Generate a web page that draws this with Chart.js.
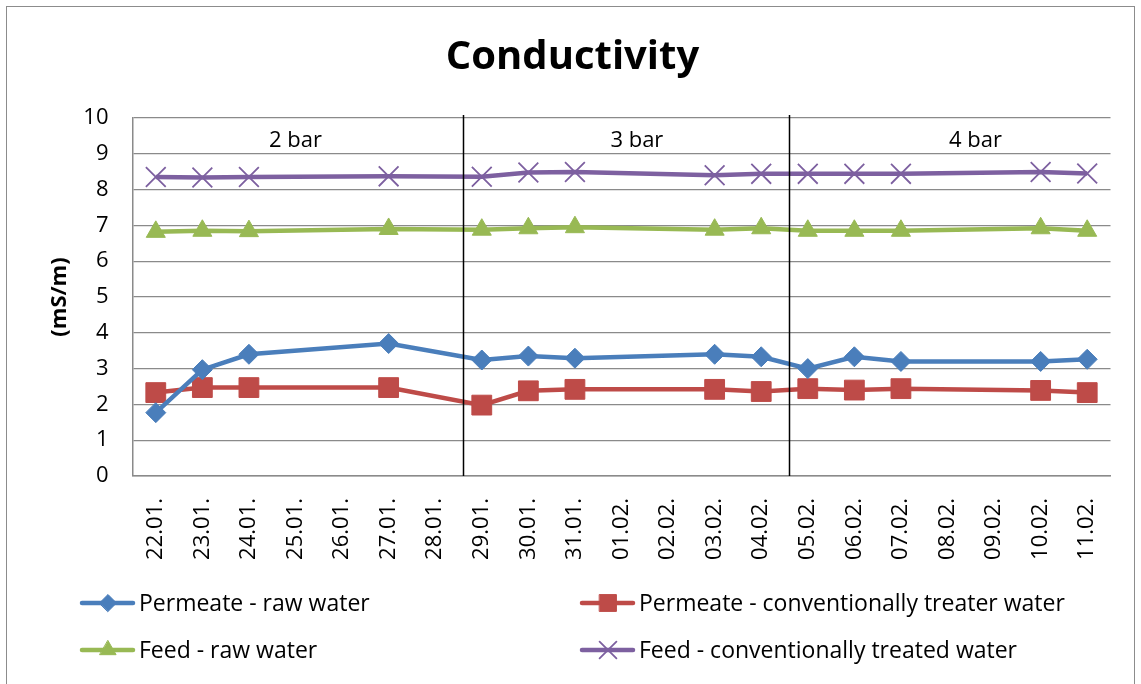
<!DOCTYPE html>
<html>
<head>
<meta charset="utf-8">
<script src="https://cdn.jsdelivr.net/npm/chart.js@4/dist/chart.umd.min.js"></script>
<style>
  html, body { margin: 0; padding: 0; background: #fff; }
  canvas { display: block; }
</style>
</head>
<body>
<canvas id="chart" width="1141" height="684"></canvas>
<script>
// ========== DATA ==========

const DATES = [
  '22.01.', '23.01.', '24.01.', '25.01.', '26.01.', '27.01.', '28.01.',
  '29.01.', '30.01.', '31.01.', '01.02.', '02.02.', '03.02.', '04.02.',
  '05.02.', '06.02.', '07.02.', '08.02.', '09.02.', '10.02.', '11.02.',
];

// null = no measurement that day (line spans the gap)
const PERMEATE_RAW = [1.77, 2.97, 3.40, null, null, 3.70, null, 3.24, 3.35, 3.29, null, null, 3.40, 3.33, 3.00, 3.33, 3.20, null, null, 3.20, 3.26];
const PERMEATE_CONV = [2.33, 2.47, 2.47, null, null, 2.47, null, 1.98, 2.38, 2.42, null, null, 2.42, 2.36, 2.44, 2.40, 2.44, null, null, 2.39, 2.33];
const FEED_RAW = [6.82, 6.85, 6.84, null, null, 6.90, null, 6.88, 6.92, 6.95, null, null, 6.88, 6.92, 6.85, 6.85, 6.85, null, null, 6.92, 6.85];
const FEED_CONV = [8.35, 8.34, 8.35, null, null, 8.37, null, 8.36, 8.48, 8.49, null, null, 8.40, 8.44, 8.44, 8.44, 8.44, null, null, 8.49, 8.45];

const PRESSURE_LABELS = ['2 bar', '3 bar', '4 bar'];
const Y_TICKS = [0, 1, 2, 3, 4, 5, 6, 7, 8, 9, 10];

const COLORS = {
  blue: '#4a7ebb',
  red: '#be4b48',
  green: '#98b954',
  purple: '#7d60a0',
  grid: '#8a8a8a',
};

const FONT = "'Open Sans', 'Liberation Sans', sans-serif";

// ========== DECORATION PLUGIN ==========

// section dividers sit between the pressure stages; label centres in category units
const DIVIDERS = [6.59, 13.59];
const SECTION_CENTERS = [3, 10.33, 17.6];

const decorPlugin = {
  id: 'decor',
  beforeDraw(chart) {
    const ctx = chart.ctx;
    ctx.save();
    ctx.fillStyle = '#fff';
    ctx.fillRect(0, 0, chart.width, chart.height);
    ctx.strokeStyle = '#8c8c8c';
    ctx.lineWidth = 1;
    ctx.strokeRect(6.5, 6.5, chart.width - 13, chart.height);
    ctx.restore();
  },
  afterDatasetsDraw(chart) {
    const ctx = chart.ctx;
    const x = chart.scales.x;
    const area = chart.chartArea;
    ctx.save();

    // title
    ctx.fillStyle = '#000';
    ctx.font = `bold 40px ${FONT}`;
    ctx.textAlign = 'center';
    ctx.textBaseline = 'middle';
    ctx.fillText('Conductivity', chart.width / 2 + 2, 58);

    // stage dividers
    ctx.strokeStyle = '#000';
    ctx.lineWidth = 1.5;
    DIVIDERS.forEach(v => {
      const px = Math.round(x.getPixelForValue(v)) + 0.5;
      ctx.beginPath();
      ctx.moveTo(px, area.top - 3);
      ctx.lineTo(px, area.bottom);
      ctx.stroke();
    });

    // stage labels
    ctx.font = `22px ${FONT}`;
    PRESSURE_LABELS.forEach((lbl, i) => {
      ctx.fillText(lbl, x.getPixelForValue(SECTION_CENTERS[i]), area.top + 23);
    });

    // legend, two columns
    const slots = [
      { x: 80, y: 603 },
      { x: 580, y: 603 },
      { x: 80, y: 650 },
      { x: 580, y: 650 },
    ];
    ctx.textAlign = 'left';
    ctx.font = `23px ${FONT}`;
    chart.data.datasets.forEach((ds, i) => {
      const s = slots[i];
      ctx.strokeStyle = ds.borderColor;
      ctx.lineWidth = ds.borderWidth;
      ctx.lineCap = 'round';
      ctx.beginPath();
      ctx.moveTo(s.x + 2, s.y);
      ctx.lineTo(s.x + 53, s.y);
      ctx.stroke();
      ctx.fillStyle = ds.pointBackgroundColor;
      ctx.strokeStyle = ds.pointBorderColor;
      ctx.lineWidth = ds.pointBorderWidth;
      Chart.helpers.drawPoint(ctx, {
        pointStyle: ds.pointStyle,
        radius: ds.pointRadius * 0.85,
        rotation: 0,
        borderWidth: ds.pointBorderWidth,
      }, s.x + 28, s.y);
      ctx.fillStyle = '#000';
      ctx.fillText(ds.label, s.x + 59, s.y + 1);
    });

    ctx.restore();
  },
};

// ========== CHART ==========

function series(label, data, color, style, radius, borderW) {
  return {
    label,
    data,
    borderColor: color,
    backgroundColor: color,
    borderWidth: 4.5,
    pointStyle: style,
    pointRadius: radius,
    pointHoverRadius: radius,
    pointBackgroundColor: color,
    pointBorderColor: color,
    pointBorderWidth: borderW,
    tension: 0,
    spanGaps: true,
  };
}

new Chart(document.getElementById('chart'), {
  type: 'line',
  data: {
    labels: DATES,
    datasets: [
      series('Permeate - raw water', PERMEATE_RAW, COLORS.blue, 'rectRot', 10, 1),
      series('Permeate - conventionally treater water', PERMEATE_CONV, COLORS.red, 'rect', 14, 1),
      series('Feed - raw water', FEED_RAW, COLORS.green, 'triangle', 11, 1),
      series('Feed - conventionally treated water', FEED_CONV, COLORS.purple, 'crossRot', 14, 1.8),
    ],
  },
  options: {
    responsive: false,
    animation: false,
    layout: { padding: { top: 118, left: 8, right: 30.5, bottom: 98 } },
    plugins: {
      legend: { display: false },
      title: { display: false },
      tooltip: { enabled: false },
    },
    scales: {
      x: {
        offset: true,
        grid: { display: false },
        border: { display: true, color: COLORS.grid, width: 1.5 },
        ticks: {
          color: '#000',
          font: { family: FONT, size: 22 },
          minRotation: 90,
          maxRotation: 90,
          autoSkip: false,
          padding: 14,
        },
        afterFit(scale) { scale.height = 110; },
      },
      y: {
        min: 0,
        max: 10,
        afterBuildTicks(scale) { scale.ticks = Y_TICKS.map(v => ({ value: v })); },
        grid: { color: COLORS.grid, lineWidth: 1.3, drawTicks: false },
        border: { display: true, color: COLORS.grid, width: 1.5 },
        ticks: {
          color: '#000',
          font: { family: FONT, size: 22 },
          padding: 24,
        },
        title: {
          display: true,
          text: '(mS/m)',
          color: '#000',
          font: { family: FONT, size: 22, weight: 'bold' },
          padding: { top: 39, bottom: 0 },
        },
        afterFit(scale) { scale.width = 124.5; },
      },
    },
  },
  plugins: [decorPlugin],
});
</script>
</body>
</html>
